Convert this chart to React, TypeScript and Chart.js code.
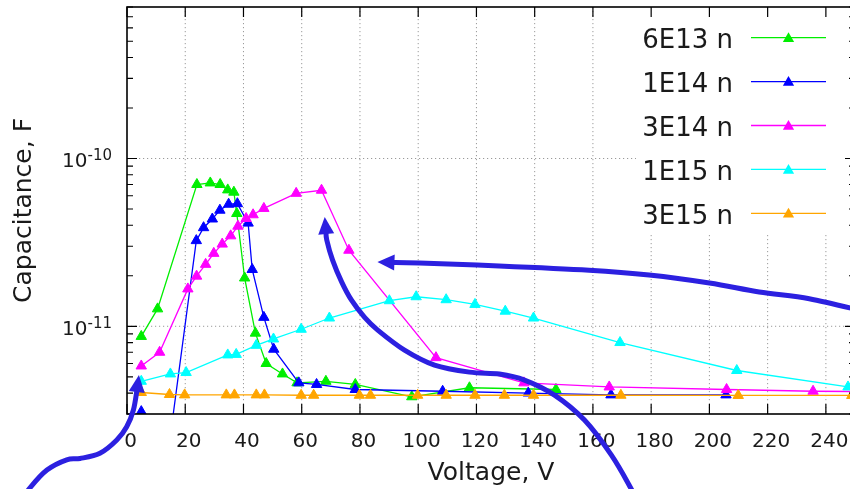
import { useEffect, useRef } from 'react';
import { Chart, registerables } from 'chart.js';

Chart.register(...registerables);

// ---------- data ----------
const seriesNames = ['6E13 n', '1E14 n', '3E14 n', '1E15 n', '3E15 n'];
const seriesColors = ['#00ee00', '#0000ff', '#ff00ff', '#00ffff', '#ffa500'];

const volt6E13 = [4.9, 10.5, 24.0, 28.6, 32.0, 34.6, 36.7, 37.7, 40.4, 44.1, 47.8, 53.4, 58.4, 68.3, 78.4, 97.8, 117.6, 147.3];
const cap6E13 = [8.7e-12, 1.27e-11, 7.0e-11, 7.15e-11, 7.0e-11, 6.5e-11, 6.3e-11, 4.7e-11, 1.94e-11, 9.1e-12, 6.0e-12, 5.2e-12, 4.6e-12, 4.7e-12, 4.5e-12, 3.8e-12, 4.3e-12, 4.2e-12];

const volt1E14 = [4.9, 15, 23.8, 26.3, 29.3, 31.9, 34.9, 37.9, 41.6, 43.0, 47.0, 50.4, 59.0, 65.1, 78.4, 108.4, 137.8, 166.2, 205.7];
const cap1E14 = [3.1e-12, 2.3e-12, 3.24e-11, 3.87e-11, 4.36e-11, 4.92e-11, 5.34e-11, 5.38e-11, 4.12e-11, 2.18e-11, 1.13e-11, 7.3e-12, 4.6e-12, 4.5e-12, 4.2e-12, 4.1e-12, 4.0e-12, 3.9e-12, 3.9e-12];

const volt3E14 = [4.9, 11.2, 20.9, 23.9, 27.0, 29.8, 32.7, 35.6, 38.1, 40.9, 43.3, 47.0, 58.1, 66.8, 76.2, 106.1, 136.3, 165.6, 205.9, 235.6, 255];
const cap3E14 = [5.8e-12, 7.0e-12, 1.67e-11, 1.99e-11, 2.34e-11, 2.72e-11, 3.09e-11, 3.46e-11, 3.95e-11, 4.39e-11, 4.62e-11, 5.04e-11, 6.2e-11, 6.47e-11, 2.84e-11, 6.5e-12, 4.6e-12, 4.35e-12, 4.2e-12, 4.1e-12, 4.08e-12];

const volt1E15 = [4.9, 14.9, 20.3, 34.6, 37.5, 44.4, 50.3, 59.8, 69.5, 90.1, 99.3, 109.6, 119.5, 129.9, 139.6, 169.3, 209.4, 247.6];
const cap1E15 = [4.7e-12, 5.2e-12, 5.3e-12, 6.75e-12, 6.8e-12, 7.7e-12, 8.4e-12, 9.6e-12, 1.12e-11, 1.42e-11, 1.5e-11, 1.44e-11, 1.35e-11, 1.23e-11, 1.12e-11, 8.0e-12, 5.45e-12, 4.35e-12];

const volt3E15 = [4.9, 14.6, 19.8, 34.1, 36.9, 44.4, 47.2, 59.8, 64.1, 79.8, 83.6, 99.8, 109.6, 119.5, 129.6, 139.6, 169.6, 209.9, 248.9];
const cap3E15 = [4.03e-12, 3.92e-12, 3.9e-12, 3.9e-12, 3.9e-12, 3.9e-12, 3.9e-12, 3.88e-12, 3.88e-12, 3.88e-12, 3.88e-12, 3.88e-12, 3.88e-12, 3.88e-12, 3.88e-12, 3.88e-12, 3.88e-12, 3.87e-12, 3.87e-12];

const seriesVolts = [volt6E13, volt1E14, volt3E14, volt1E15, volt3E15];
const seriesCaps = [cap6E13, cap1E14, cap3E14, cap1E15, cap3E15];

const xTickValues = [0, 20, 40, 60, 80, 100, 120, 140, 160, 180, 200, 220, 240];
const yLabelExponents = [-10, -11];
const yDecadeExponents = [-12, -11, -10];

// annotation arrows (data coordinates: [voltage, capacitance]); last entry is the tip
const arrowLeft = [[-36.0, 9.2e-13], [-33.3, 1.09e-12], [-27.5, 1.39e-12], [-20.7, 1.6e-12], [-16.1, 1.63e-12], [-9.3, 1.75e-12], [-3.5, 2.1e-12], [-0.1, 2.52e-12], [2.2, 3.17e-12], [3.3, 4.0e-12], [4.1, 5.12e-12]];
const arrowMiddle = [[175.9, 8.6e-13], [173.2, 1.07e-12], [166.3, 1.71e-12], [157.1, 2.76e-12], [146.8, 3.89e-12], [136.5, 4.78e-12], [127.9, 5.19e-12], [117.6, 5.33e-12], [105.6, 5.87e-12], [95.3, 7.21e-12], [86.1, 9.49e-12], [81.6, 1.13e-11], [77.1, 1.43e-11], [73.7, 1.84e-11], [70.6, 2.48e-11], [68.6, 3.27e-11], [67.9, 4.48e-11]];
const arrowRight = [[252, 1.24e-11], [234.3, 1.46e-11], [217.1, 1.6e-11], [200.0, 1.81e-11], [179.3, 2.02e-11], [158.7, 2.16e-11], [127.8, 2.29e-11], [100.4, 2.38e-11], [91.2, 2.4e-11], [86.0, 2.42e-11]];
const arrows = [arrowLeft, arrowMiddle, arrowRight];

// ---------- styles ----------
const FONT = "'DejaVu Sans', sans-serif";
const TEXT_COLOR = '#1a1a1a';
const ARROW_COLOR = '#2c20e0';

function drawSmooth(ctx: CanvasRenderingContext2D, pts: { x: number; y: number }[]) {
  ctx.moveTo(pts[0].x, pts[0].y);
  for (let i = 0; i < pts.length - 1; i++) {
    const p0 = pts[i - 1] || pts[i];
    const p1 = pts[i];
    const p2 = pts[i + 1];
    const p3 = pts[i + 2] || p2;
    ctx.bezierCurveTo(
      p1.x + (p2.x - p0.x) / 6, p1.y + (p2.y - p0.y) / 6,
      p2.x - (p3.x - p1.x) / 6, p2.y - (p3.y - p1.y) / 6,
      p2.x, p2.y
    );
  }
}

function drawTriangle(ctx: CanvasRenderingContext2D, x: number, y: number, r: number) {
  ctx.beginPath();
  for (let k = 0; k < 3; k++) {
    const a = (k * 2 * Math.PI) / 3;
    const px = x + Math.sin(a) * r;
    const py = y - Math.cos(a) * r;
    if (k === 0) ctx.moveTo(px, py);
    else ctx.lineTo(px, py);
  }
  ctx.closePath();
  ctx.fill();
}

const framePlugin = {
  id: 'gnuframe',
  beforeDatasetsDraw(chart: any) {
    const { ctx, chartArea } = chart;
    const xs = chart.scales.x;
    const ys = chart.scales.y;
    ctx.save();
    ctx.strokeStyle = '#9a9a9a';
    ctx.lineWidth = 1;
    ctx.setLineDash([1.2, 2.8]);
    xTickValues.forEach((v) => {
      if (v === 0) return;
      const px = xs.getPixelForValue(v);
      ctx.beginPath();
      ctx.moveTo(px, chartArea.top);
      ctx.lineTo(px, chartArea.bottom);
      ctx.stroke();
    });
    yLabelExponents.forEach((e) => {
      const py = ys.getPixelForValue(Math.pow(10, e));
      ctx.beginPath();
      ctx.moveTo(chartArea.left, py);
      ctx.lineTo(chartArea.right, py);
      ctx.stroke();
    });
    ctx.setLineDash([]);
    // opaque key box
    ctx.fillStyle = '#ffffff';
    ctx.fillRect(chartArea.right - 219, chartArea.top, 219, 226);
    ctx.restore();
  },
  afterDatasetsDraw(chart: any) {
    const { ctx, chartArea } = chart;
    const xs = chart.scales.x;
    const ys = chart.scales.y;
    ctx.save();
    // legend
    ctx.font = `26px ${FONT}`;
    ctx.textAlign = 'right';
    ctx.textBaseline = 'alphabetic';
    seriesNames.forEach((name, i) => {
      const cy = chartArea.top + 30.7 + i * 43.9;
      ctx.fillStyle = TEXT_COLOR;
      ctx.fillText(name, chartArea.right - 122, cy + 10.5);
      ctx.strokeStyle = seriesColors[i];
      ctx.lineWidth = 1.3;
      ctx.beginPath();
      ctx.moveTo(chartArea.right - 104, cy);
      ctx.lineTo(chartArea.right - 29, cy);
      ctx.stroke();
      ctx.fillStyle = seriesColors[i];
      drawTriangle(ctx, chartArea.right - 66.5, cy + 1, 6.5);
    });
    // ticks
    ctx.strokeStyle = '#000';
    ctx.lineWidth = 1.2;
    xTickValues.forEach((v) => {
      const px = xs.getPixelForValue(v);
      ctx.beginPath();
      ctx.moveTo(px, chartArea.bottom);
      ctx.lineTo(px, chartArea.bottom - 10);
      ctx.moveTo(px, chartArea.top);
      ctx.lineTo(px, chartArea.top + 10);
      ctx.stroke();
    });
    yDecadeExponents.forEach((e) => {
      for (let m = 1; m <= 9; m++) {
        const val = m * Math.pow(10, e);
        if (val < ys.min * 0.999 || val > ys.max * 1.001) continue;
        const py = ys.getPixelForValue(val);
        const len = m === 1 ? 10 : 6;
        ctx.beginPath();
        ctx.moveTo(chartArea.left, py);
        ctx.lineTo(chartArea.left + len, py);
        ctx.moveTo(chartArea.right, py);
        ctx.lineTo(chartArea.right - len, py);
        ctx.stroke();
      }
    });
    // border
    ctx.lineWidth = 1.6;
    ctx.strokeRect(chartArea.left, chartArea.top, chartArea.right - chartArea.left, chartArea.bottom - chartArea.top);
    // y labels with superscript exponent
    ctx.fillStyle = TEXT_COLOR;
    ctx.textAlign = 'left';
    yLabelExponents.forEach((e) => {
      const py = ys.getPixelForValue(Math.pow(10, e));
      const sup = String(e);
      ctx.font = `15px ${FONT}`;
      const wSup = ctx.measureText(sup).width;
      ctx.font = `20px ${FONT}`;
      const wMain = ctx.measureText('10').width;
      const rightX = chartArea.left - 15;
      ctx.fillText('10', rightX - wSup - wMain, py + 8.5);
      ctx.font = `15px ${FONT}`;
      ctx.fillText(sup, rightX - wSup, py + 1.7);
    });
    ctx.restore();
  },
  afterDraw(chart: any) {
    const { ctx } = chart;
    const xs = chart.scales.x;
    const ys = chart.scales.y;
    ctx.save();
    ctx.strokeStyle = ARROW_COLOR;
    ctx.fillStyle = ARROW_COLOR;
    ctx.lineWidth = 5;
    ctx.lineCap = 'round';
    ctx.lineJoin = 'round';
    const headLen = 17;
    const half = 8;
    arrows.forEach((arr) => {
      const pts = arr.map(([v, c]) => ({ x: xs.getPixelForValue(v), y: ys.getPixelForValue(c) }));
      const tip = pts[pts.length - 1];
      let shaft = pts.slice(0, -1);
      const last = shaft[shaft.length - 1];
      const dx = tip.x - last.x;
      const dy = tip.y - last.y;
      const d = Math.hypot(dx, dy) || 1;
      const ux = dx / d;
      const uy = dy / d;
      const bx = tip.x - ux * headLen;
      const by = tip.y - uy * headLen;
      // make the shaft run into the head base
      const baseIn = { x: bx + ux * 3, y: by + uy * 3 };
      if (d > headLen + 2) shaft = [...shaft, baseIn];
      else shaft[shaft.length - 1] = baseIn;
      ctx.beginPath();
      drawSmooth(ctx, shaft);
      ctx.stroke();
      ctx.beginPath();
      ctx.moveTo(tip.x, tip.y);
      ctx.lineTo(bx - uy * half, by + ux * half);
      ctx.lineTo(bx + uy * half, by - ux * half);
      ctx.closePath();
      ctx.fill();
    });
    ctx.restore();
  },
};

export default function App() {
  const canvasRef = useRef<HTMLCanvasElement | null>(null);

  useEffect(() => {
    const canvas = canvasRef.current;
    if (!canvas) return;
    const datasets = seriesNames.map((name, i) => ({
      label: name,
      data: seriesVolts[i].map((v, j) => ({ x: v, y: seriesCaps[i][j] })),
      borderColor: seriesColors[i],
      backgroundColor: seriesColors[i],
      pointBackgroundColor: seriesColors[i],
      pointBorderColor: seriesColors[i],
      borderWidth: 1.3,
      pointStyle: 'triangle' as const,
      pointRadius: 6,
      pointHoverRadius: 6,
      pointBorderWidth: 1,
      tension: 0,
      fill: false,
      order: seriesNames.length - i,
    }));
    const chart = new Chart(canvas, {
      type: 'line',
      data: { datasets },
      options: {
        animation: false,
        responsive: false,
        events: [],
        layout: { padding: { left: 0, right: 6, top: 7, bottom: 0 } },
        plugins: { legend: { display: false }, tooltip: { enabled: false } },
        scales: {
          x: {
            type: 'linear',
            min: 0,
            max: 250,
            afterBuildTicks: (s: any) => {
              s.ticks = xTickValues.map((v) => ({ value: v }));
            },
            afterFit: (s: any) => {
              s.height = 75;
            },
            grid: { display: false, drawTicks: false },
            border: { display: false },
            ticks: {
              font: { family: FONT, size: 20 },
              color: TEXT_COLOR,
              padding: 16,
              labelOffset: 3.5,
              maxRotation: 0,
              autoSkip: false,
            },
            title: {
              display: true,
              text: 'Voltage, V',
              font: { family: FONT, size: 25 },
              color: TEXT_COLOR,
              padding: { top: 0, bottom: 0.5 },
            },
          },
          y: {
            type: 'logarithmic',
            min: 3e-12,
            max: 8e-10,
            afterFit: (s: any) => {
              s.width = 127;
            },
            grid: { display: false, drawTicks: false },
            border: { display: false },
            ticks: { display: false },
            title: {
              display: true,
              text: 'Capacitance, F',
              font: { family: FONT, size: 25 },
              color: TEXT_COLOR,
              padding: { top: 9.5, bottom: 0 },
            },
          },
        },
      },
      plugins: [framePlugin],
    });
    return () => chart.destroy();
  }, []);

  return (
    <div style={{ position: 'absolute', left: 0, top: 0, width: 850, height: 489, overflow: 'hidden', background: '#fff' }}>
      <canvas ref={canvasRef} width={862} height={489} style={{ width: 862, height: 489, display: 'block' }} />
    </div>
  );
}
